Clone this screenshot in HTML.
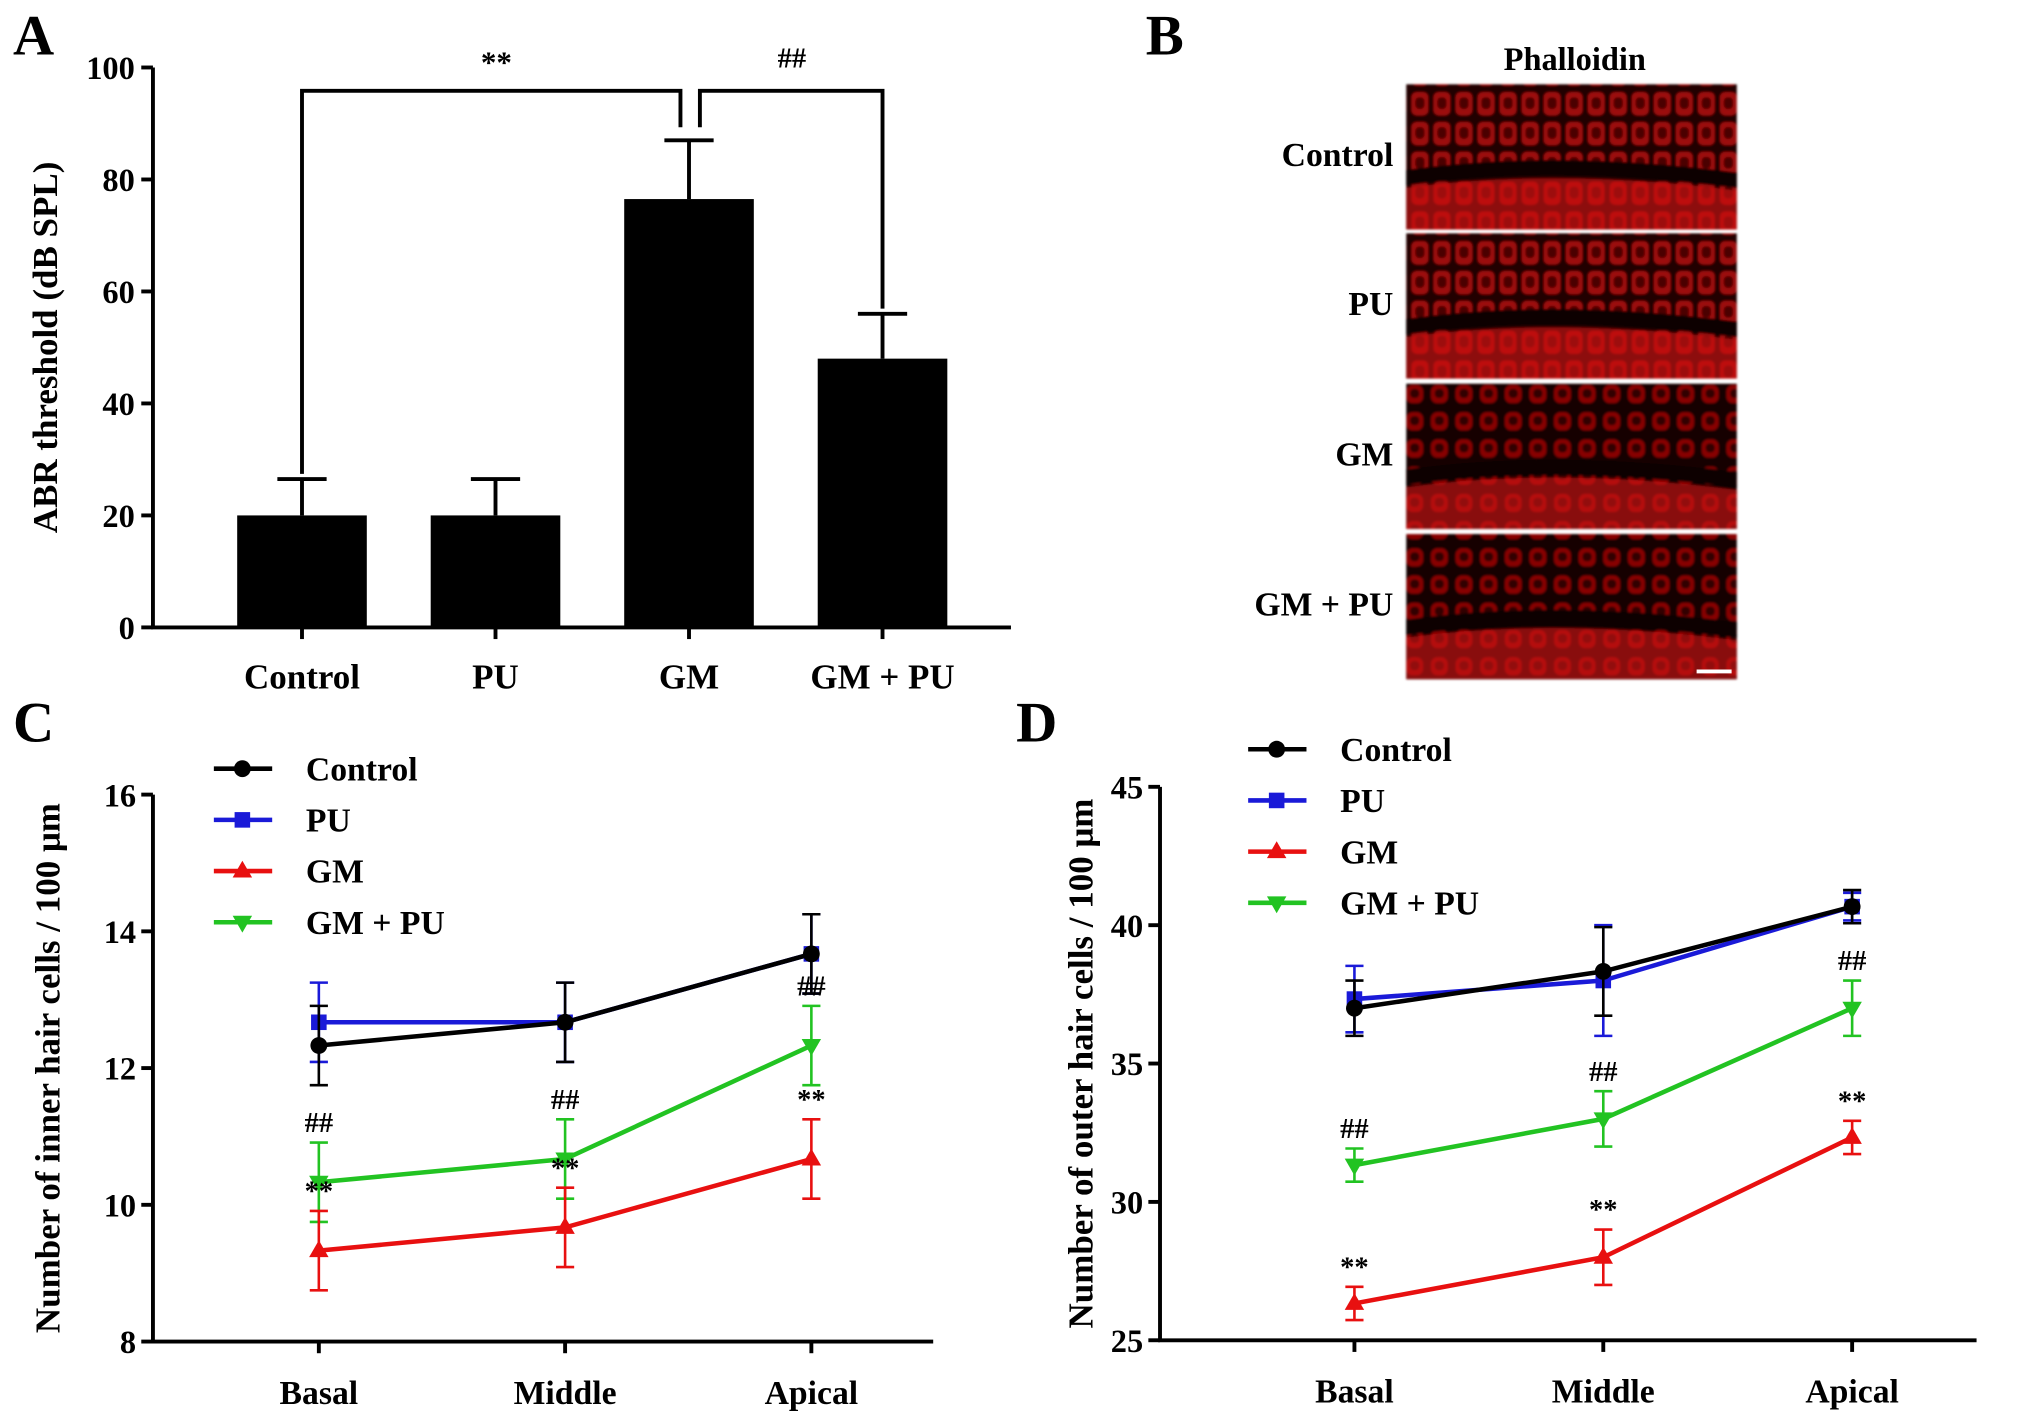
<!DOCTYPE html>
<html><head><meta charset="utf-8">
<style>
html,body{margin:0;padding:0;background:#fff;}
svg{display:block;}
text{font-family:"Liberation Serif",serif;font-weight:bold;fill:#000;}
</style></head>
<body>
<svg id="fig" width="2031" height="1422" viewBox="0 0 1567 1097" xmlns="http://www.w3.org/2000/svg">
<defs>
<pattern id="cellsA" width="17" height="23" patternUnits="userSpaceOnUse">
<rect width="17" height="23" fill="#2a0000"/>
<rect x="1" y="2" width="13" height="18" rx="4" fill="#b80c0c"/>
<rect x="4" y="6" width="7" height="9" rx="3" fill="#5a0000"/>
</pattern>
<pattern id="cellsB" width="19" height="21" patternUnits="userSpaceOnUse">
<rect width="19" height="21" fill="#1e0000"/>
<rect x="2" y="3" width="13" height="14" rx="5" fill="#a00808"/>
<rect x="5" y="6" width="7" height="7" rx="3" fill="#3a0000"/>
</pattern>
<filter id="blur"><feGaussianBlur stdDeviation="0.9"/></filter>
</defs>

<g id="panelA"></g>
<g id="panelB"></g>
<g id="panelC"></g>
<g id="panelD"></g>

<text x="10" y="42" font-size="44">A</text>
<text x="884" y="42" font-size="44">B</text>
<text x="10" y="572" font-size="44">C</text>
<text x="784" y="572" font-size="44">D</text>
</svg>
<script>
const NS="http://www.w3.org/2000/svg";
function mk(parent,tag,attrs,txt){const e=document.createElementNS(NS,tag);for(const k in attrs)e.setAttribute(k,attrs[k]);if(txt!==undefined)e.textContent=txt;parent.appendChild(e);return e;}

// ---------- Panel A data ----------
const barCategories=["Control","PU","GM","GM + PU"];
const barValues=[20,20,76.5,48];
const barErrors=[6.5,6.5,10.5,8];
const barTicks=[0,20,40,60,80,100];

(function(){
const g=document.getElementById('panelA');
const x0=118,x1=780,yb=484,yt=52,vmax=100;
const Y=v=>yb-(v/vmax)*(yb-yt);
const X=i=>233+i*149.3;
const bw=100;
barCategories.forEach((c,i)=>{
 const r=mk(g,'rect',{x:X(i)-bw/2,y:Y(barValues[i]),width:bw,height:yb-Y(barValues[i]),fill:'#000'});
 
 
 const e=mk(g,'path',{d:`M${X(i)} ${Y(barValues[i])}V${Y(barValues[i]+barErrors[i])}M${X(i)-19} ${Y(barValues[i]+barErrors[i])}H${X(i)+19}`,stroke:'#000','stroke-width':3,fill:'none'});
 
 
 const t=mk(g,'text',{x:X(i),y:531,'font-size':27,'text-anchor':'middle'},c);
 
 
});
mk(g,'path',{d:`M${x0} ${yt}V${yb}H${x1}`,stroke:'#000','stroke-width':3,fill:'none'});
barTicks.forEach(v=>{
 mk(g,'line',{x1:x0-9,x2:x0,y1:Y(v),y2:Y(v),stroke:'#000','stroke-width':3});
 const t=mk(g,'text',{x:x0-14,y:Y(v)+9,'font-size':25,'text-anchor':'end'},v);
 
 
});
barCategories.forEach((c,i)=>mk(g,'line',{x1:X(i),x2:X(i),y1:yb,y2:yb+9,stroke:'#000','stroke-width':3}));
const br1=mk(g,'path',{d:`M${X(0)} ${Y(barValues[0]+barErrors[0])-4}V70H525V${Y(barValues[2]+barErrors[2])-10}`,stroke:'#000','stroke-width':3,fill:'none'});


const br2=mk(g,'path',{d:`M540 ${Y(barValues[2]+barErrors[2])-10}V70H${X(3)}V${Y(barValues[3]+barErrors[3])-4}`,stroke:'#000','stroke-width':3,fill:'none'});


const s1=mk(g,'text',{x:383,y:56,'font-size':24,'text-anchor':'middle','font-weight':'normal'},'**');


const s2=mk(g,'text',{x:611,y:52,'font-size':22,'text-anchor':'middle','font-weight':'normal'},'##');


const yl=mk(g,'text',{x:0,y:0,'font-size':27,'text-anchor':'middle',transform:'translate(44,268) rotate(-90)'},'ABR threshold (dB SPL)');


})();

// ---------- Panel B ----------
const imgLabels=["Control","PU","GM","GM + PU"];
(function(){
const g=document.getElementById('panelB');
const t=mk(g,'text',{x:1215,y:54,'font-size':25,'text-anchor':'middle'},'Phalloidin');


const tops=[65,180,296,412],h=112;
imgLabels.forEach((l,i)=>{
 const y=tops[i];
 const im=mk(g,'g',{filter:'url(#blur)'});
 
 
 mk(im,'rect',{x:1085,y:y,width:255,height:h,fill:i<2?'url(#cellsA)':'url(#cellsB)'});
 mk(im,'rect',{x:1085,y:y,width:255,height:h,fill:'#000',opacity:0.15});
 mk(im,'path',{d:`M1085 ${y+66}Q1200 ${y+50} 1340 ${y+68}V${y+80}Q1200 ${y+62} 1085 ${y+78}Z`,fill:'#100000'});
 mk(im,'path',{d:`M1085 ${y+80}Q1200 ${y+64} 1340 ${y+82}V${y+h}H1085Z`,fill:'#d41414',opacity:0.6});
 const lt=mk(g,'text',{x:1075,y:y+63,'font-size':26,'text-anchor':'end'},l);
 
 
});
const sb=mk(g,'line',{x1:1309,x2:1336,y1:518,y2:518,stroke:'#fff','stroke-width':3});


})();

// ---------- Line charts data ----------
const regions=["Basal","Middle","Apical"];
const seriesNames=["Control","PU","GM","GM + PU"];
const innerControl=[12.33,12.67,13.67];
const innerPU=[12.67,12.67,13.67];
const innerGM=[9.33,9.67,10.67];
const innerGMPU=[10.33,10.67,12.33];
const innerErr=[0.58,0.58,0.58];
const innerTicks=[8,10,12,14,16];
const outerControl=[37,38.33,40.67];
const outerPU=[37.33,38,40.67];
const outerGM=[26.33,28,32.33];
const outerGMPU=[31.33,33,37];
const outerErrControl=[1,1.6,0.6];
const outerErrPU=[1.2,2,0.5];
const outerErrGM=[0.6,1,0.6];
const outerErrGMPU=[0.6,1,1];
const outerTicks=[25,30,35,40,45];

const colors=["#000000","#1a1ad8","#e81010","#22c322"];
function marker(g,type,x,y,c){
 if(type===0)return mk(g,'circle',{cx:x,cy:y,r:6.5,fill:c});
 if(type===1)return mk(g,'rect',{x:x-6,y:y-6,width:12,height:12,fill:c});
 if(type===2)return mk(g,'path',{d:`M${x} ${y-8}L${x+7.5} ${y+5}L${x-7.5} ${y+5}Z`,fill:c});
 return mk(g,'path',{d:`M${x} ${y+8}L${x+7.5} ${y-5}L${x-7.5} ${y-5}Z`,fill:c});
}
function lineChart(g,cfg){
 const {x0,x1,yb,yt,vmin,vmax,ticks,xs,series,errs,title,legX,legY}=cfg;
 const Y=v=>yb-(v-vmin)/(vmax-vmin)*(yb-yt);
 mk(g,'path',{d:`M${x0} ${yt}V${yb}H${x1}`,stroke:'#000','stroke-width':3,fill:'none'});
 ticks.forEach(v=>{
  mk(g,'line',{x1:x0-9,x2:x0,y1:Y(v),y2:Y(v),stroke:'#000','stroke-width':3});
  const t=mk(g,'text',{x:x0-13,y:Y(v)+9,'font-size':25,'text-anchor':'end'},v);
  
  
 });
 regions.forEach((r,i)=>{
  mk(g,'line',{x1:xs[i],x2:xs[i],y1:yb,y2:yb+9,stroke:'#000','stroke-width':3});
  const t=mk(g,'text',{x:xs[i],y:yb+48,'font-size':26,'text-anchor':'middle'},r);
  
  
 });
 const yl=mk(g,'text',{x:0,y:0,'font-size':27,'text-anchor':'middle',transform:`translate(${cfg.ylx},${(yb+yt)/2}) rotate(-90)`},title);
 
 
 [3,2,1,0].forEach(s=>{
  const sg=mk(g,'g',{});
  
  
  const vals=series[s],er=errs[s],c=colors[s];
  vals.forEach((v,i)=>{
   mk(sg,'path',{d:`M${xs[i]} ${Y(v-er[i])}V${Y(v+er[i])}M${xs[i]-7} ${Y(v-er[i])}H${xs[i]+7}M${xs[i]-7} ${Y(v+er[i])}H${xs[i]+7}`,stroke:c,'stroke-width':2,fill:'none'});
  });
  mk(sg,'polyline',{points:vals.map((v,i)=>xs[i]+','+Y(v)).join(' '),stroke:c,'stroke-width':3.5,fill:'none'});
  vals.forEach((v,i)=>{
   const m=marker(sg,s,xs[i],Y(v),c);
   
   
  });
 });
 [2,3].forEach(s=>{
  series[s].forEach((v,i)=>{
   const t=mk(g,'text',{x:xs[i],y:Y(v+errs[s][i])-8,'font-size':22,'text-anchor':'middle','font-weight':'normal',fill:'#444'},s===2?'**':'##');
   
   
  });
 });
 seriesNames.forEach((n,s)=>{
  const y=legY+s*39.5;
  const lg=mk(g,'g',{});
  
  
  mk(lg,'line',{x1:legX,x2:legX+45,y1:y,y2:y,stroke:colors[s],'stroke-width':3.5});
  marker(lg,s,legX+22,y,colors[s]);
  mk(lg,'text',{x:legX+71,y:y+9,'font-size':26},n);
 });
}
lineChart(document.getElementById('panelC'),{x0:118,x1:720,yb:1035,yt:613,vmin:8,vmax:16,ticks:innerTicks,xs:[246,436,626],
 series:[innerControl,innerPU,innerGM,innerGMPU],errs:[innerErr,innerErr,innerErr,innerErr],
 title:'Number of inner hair cells / 100 μm',ylx:46,legX:165,legY:593});
lineChart(document.getElementById('panelD'),{x0:895,x1:1525,yb:1034,yt:607,vmin:25,vmax:45,ticks:outerTicks,xs:[1045,1237,1429],
 series:[outerControl,outerPU,outerGM,outerGMPU],errs:[outerErrControl,outerErrPU,outerErrGM,outerErrGMPU],
 title:'Number of outer hair cells / 100 μm',ylx:843,legX:963,legY:578});
</script>
</body></html>
